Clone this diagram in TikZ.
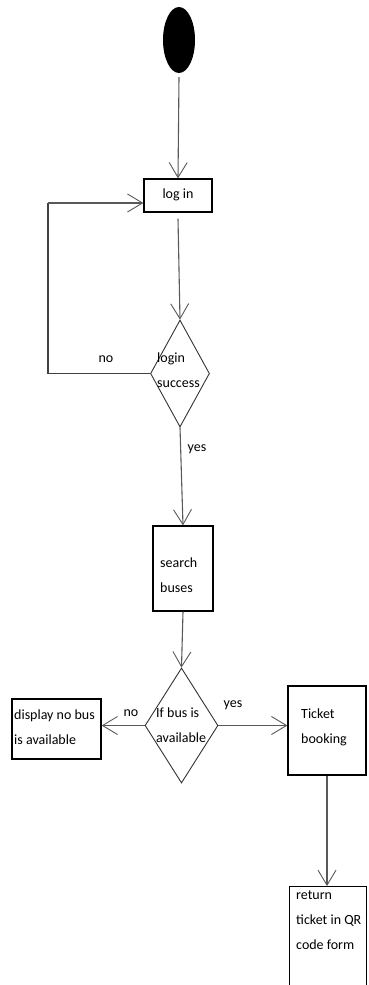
\documentclass[tikz,border=0pt]{standalone}
\usepackage{fontspec}
\setmainfont{Carlito}
\usetikzlibrary{shapes.geometric,arrows.meta}
\begin{document}
\begin{tikzpicture}[x=1pt,y=-1pt,
  box/.style={draw=black,line width=1.3pt,rectangle,inner sep=0pt},
  dec/.style={draw=black!80,line width=0.9pt,diamond,inner sep=0pt},
  txt/.style={font=\fontsize{14}{25}\selectfont,inner sep=0pt,align=left,text=black},
  conn/.style={draw=black!65,line width=1.1pt,-{Straight Barb[length=15pt,width=18pt,line width=0.9pt]}},
  plain/.style={draw=black!75,line width=1.3pt}]
\useasboundingbox (0,0) rectangle (368,985);
% start
\node[ellipse,fill=black,minimum width=32pt,minimum height=66pt,inner sep=0pt] (start) at (179,40) {};
% boxes
\node[box,minimum width=68pt,minimum height=33pt] (login) at (178,195.5) {};
\node[txt] (logintxt) at (178,195) {log in};
\node[dec,minimum width=59pt,minimum height=107pt] (d1) at (180,373.5) {};
\node[txt,anchor=west] (d1txt) at (157,370) {login\\success};
\node[box,minimum width=60pt,minimum height=85pt] (search) at (183,568.5) {};
\node[txt,anchor=west] (searchtxt) at (160,575) {search\\buses};
\node[dec,minimum width=73pt,minimum height=115pt] (d2) at (181.5,725.5) {};
\node[txt,anchor=west] (d2txt) at (156,725) {If bus is\\available};
\node[box,minimum width=89pt,minimum height=60pt] (nobus) at (56.5,729) {};
\node[txt,anchor=west] (nobustxt) at (14,727) {display no bus\\is available};
\node[box,minimum width=78pt,minimum height=89pt] (ticket) at (327,730.5) {};
\node[txt,anchor=west] (tickettxt) at (301,727) {Ticket\\booking};
\node[box,minimum width=77pt,minimum height=110pt,anchor=north west] (ret) at (289,886) {};
\node[txt,anchor=north west] (rettxt) at (296,890) {return\\ticket in QR\\code form};
% labels
\node[txt] (lno1) at (106,359) {no};
\node[txt] (lyes1) at (197,449) {yes};
\node[txt] (lno2) at (131,713) {no};
\node[txt] (lyes2) at (233,705) {yes};
% connectors
\draw[conn] (start.south) ++(0,4) -- (login.north);
\draw[conn] (login.south) ++(0,6) -- (d1.north);
\coordinate (c1) at (48,373.5);
\coordinate (c2) at (48,203);
\draw[plain] (d1.west) -- (c1) -- (c2);
\draw[conn] (c2) -- (login.west |- c2);
\draw[conn] (d1.south) -- (search.north);
\draw[conn] (search.south) -- (d2.north);
\draw[conn] (d2.west) -- (nobus.east |- d2.west);
\draw[conn] (d2.east) -- (ticket.west |- d2.east);
\draw[conn] (ticket.south) -- (ret.north -| ticket.south);
\end{tikzpicture}
\end{document}
